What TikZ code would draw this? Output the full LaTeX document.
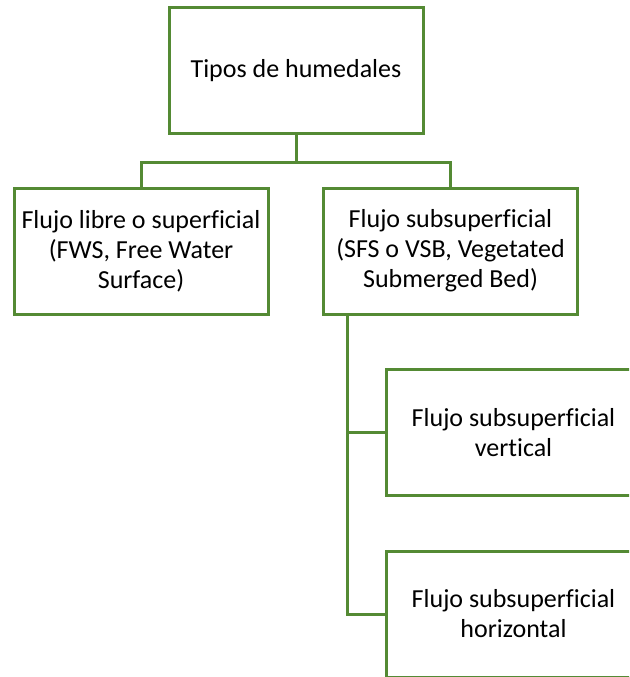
\documentclass[tikz,border=0pt]{standalone}
\usepackage{fontspec}
\setmainfont[Ligatures=NoCommon]{Carlito}
\definecolor{boxgreen}{RGB}{84,138,52}
\begin{document}
\begin{tikzpicture}[x=1pt,y=1pt,
  box/.style={draw=boxgreen, line width=3pt, fill=white, rectangle,
    minimum width=254pt, minimum height=126pt, inner sep=0pt,
    align=center, font=\fontsize{26}{30}\selectfont},
  link/.style={draw=boxgreen, line width=3pt}]
\useasboundingbox (0,0) rectangle (629,-677);
\clip (0,0) rectangle (629,-677);
\fill[white] (0,0) rectangle (629,-677);

\node[box] (top)   at (296,-70.5)   {Tipos de humedales};
\node[box] (left)  at (141,-251)    {Flujo libre o superficial\\(FWS, Free Water\\Surface)};
\node[box] (right) at (450.5,-251)  {Flujo subsuperficial\\(SFS o VSB, Vegetated\\Submerged Bed)};
\node[box] (vert)  at (513.5,-432.5){Flujo subsuperficial\\vertical};
\node[box] (horiz) at (513.5,-614)  {Flujo subsuperficial\\horizontal};

% first level
\draw[link] (top.south) -- ++(0,-27) -| (left.north);
\draw[link] (top.south) -- ++(0,-27) -| (right.north);

% second level, fed from a trunk under the right box
\coordinate (trunk) at ([xshift=25.5pt]right.south west);
\draw[link] (trunk) |- (vert.west);
\draw[link] (trunk) |- (horiz.west);
\end{tikzpicture}
\end{document}
